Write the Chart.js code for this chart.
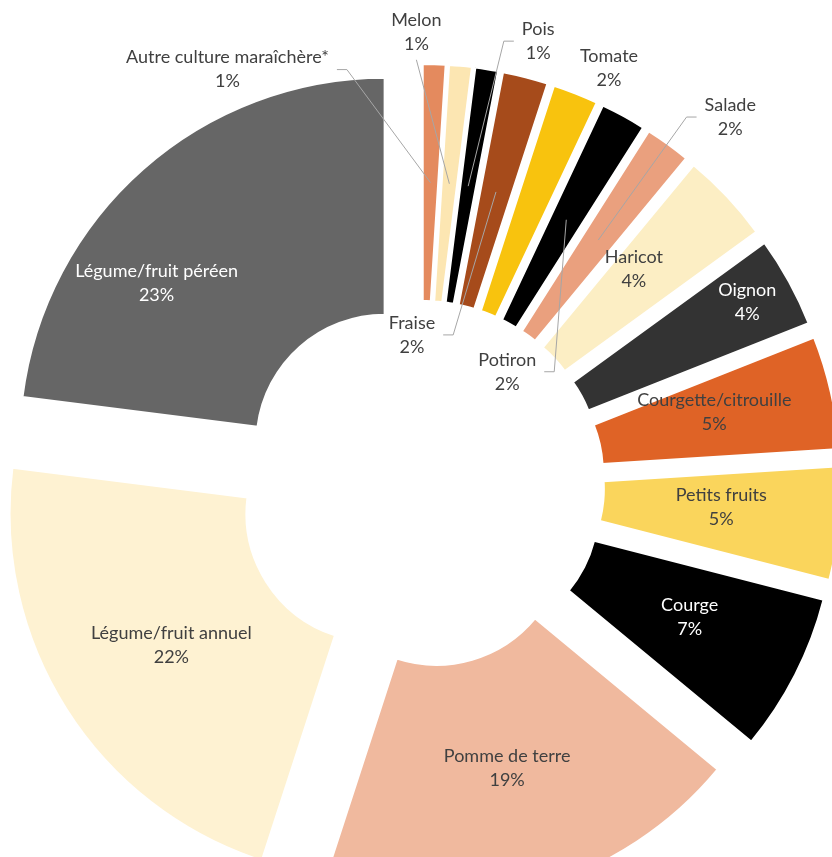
<!DOCTYPE html>
<html>
<head>
<meta charset="utf-8">
<script src="https://cdn.jsdelivr.net/npm/chart.js@4.4.0/dist/chart.umd.min.js"></script>
<style>
  html, body { margin: 0; padding: 0; background: #fff; overflow: hidden; }
  #cultures { display: block; }
</style>
</head>
<body>
<canvas id="cultures" width="832" height="857"></canvas>
<script>
// Parts des cultures (en %), dans l'ordre horaire depuis midi
const categories = [
  'Autre culture maraîchère*', 'Melon', 'Pois', 'Fraise', 'Tomate', 'Potiron', 'Salade',
  'Haricot', 'Oignon', 'Courgette/citrouille', 'Petits fruits', 'Courge',
  'Pomme de terre', 'Légume/fruit annuel', 'Légume/fruit péréen'
];
const shares = [1, 1, 1, 2, 2, 2, 2, 4, 4, 5, 5, 7, 19, 22, 23];

const sliceColors = [
  '#E48A5E', '#FCE6B2', '#000000', '#A64B1B', '#F8C30E', '#000000', '#EAA07E',
  '#FCEEC4', '#333333', '#DF6326', '#FAD55C', '#000000',
  '#F0B99E', '#FEF2D2', '#666666'
];
const textColors = [
  '#404040', '#404040', '#404040', '#404040', '#404040', '#404040', '#404040',
  '#404040', '#ffffff', '#404040', '#404040', '#ffffff',
  '#404040', '#404040', '#ffffff'
];

// where each label block sits, relative to the centroid of its (exploded) slice
const labelShift = [
  [-203, -113], [-33, -152], [70, -145], [-84, 143], [77, -135], [-59, 152], [132, -123],
  [-7, -8], [62, -37], [-1, -6], [0, -5], [0, -4],
  [2, -5], [5, 0], [-65, 25]
];
// side of the label the leader line leaves from (null = no leader)
const leaderFrom = [
  'right', 'below', 'left', 'right', null, 'right', 'left',
  null, null, null, null, null,
  null, null, null
];

const EXPLODE = 55;
const LINE_H = 24;
const FONT = '18px Lato';

const explodedSlices = {
  id: 'explodedSlices',
  beforeDatasetsDraw(chart) {
    const ctx = chart.ctx;
    chart.getDatasetMeta(0).data.forEach(arc => {
      const mid = (arc.startAngle + arc.endAngle) / 2;
      ctx.save();
      ctx.translate(Math.cos(mid) * EXPLODE, Math.sin(mid) * EXPLODE);
      arc.draw(ctx);
      ctx.restore();
    });
    return false;
  },
  afterDraw(chart) {
    const ctx = chart.ctx;
    const total = shares.reduce((a, b) => a + b, 0);
    ctx.save();
    ctx.font = FONT;
    ctx.textAlign = 'center';
    ctx.textBaseline = 'middle';
    chart.getDatasetMeta(0).data.forEach((arc, i) => {
      const mid = (arc.startAngle + arc.endAngle) / 2;
      const r = (arc.innerRadius + arc.outerRadius) / 2 + EXPLODE;
      const px = arc.x + Math.cos(mid) * r;
      const py = arc.y + Math.sin(mid) * r;
      const cx = px + labelShift[i][0];
      const cy = py + labelShift[i][1];
      const lines = [categories[i], Math.round(shares[i] / total * 100) + '%'];
      const w = Math.max(...lines.map(t => ctx.measureText(t).width));

      const side = leaderFrom[i];
      if (side) {
        ctx.strokeStyle = '#A6A6A6';
        ctx.lineWidth = 1;
        ctx.beginPath();
        if (side === 'below') {
          ctx.moveTo(cx, cy + LINE_H + 4);
        } else {
          const dir = side === 'right' ? 1 : -1;
          const x0 = cx + dir * (w / 2 + 8);
          ctx.moveTo(x0, cy);
          ctx.lineTo(x0 + dir * 10, cy);
        }
        ctx.lineTo(px, py);
        ctx.stroke();
      }

      ctx.fillStyle = textColors[i];
      ctx.fillText(lines[0], cx, cy - LINE_H / 2);
      ctx.fillText(lines[1], cx, cy + LINE_H / 2);
    });
    ctx.restore();
  }
};

new Chart(document.getElementById('cultures'), {
  type: 'doughnut',
  data: {
    labels: categories,
    datasets: [{
      data: shares,
      backgroundColor: sliceColors,
      borderColor: '#ffffff',
      borderWidth: 2,
      offset: 0,
      hoverOffset: 0
    }]
  },
  options: {
    responsive: false,
    animation: false,
    events: [],
    radius: 365,
    cutout: '35.1%',
    layout: { padding: { left: 10, right: 0, top: 111, bottom: 0 } },
    plugins: {
      legend: { display: false },
      tooltip: { enabled: false }
    }
  },
  plugins: [explodedSlices]
});
</script>
</body>
</html>
